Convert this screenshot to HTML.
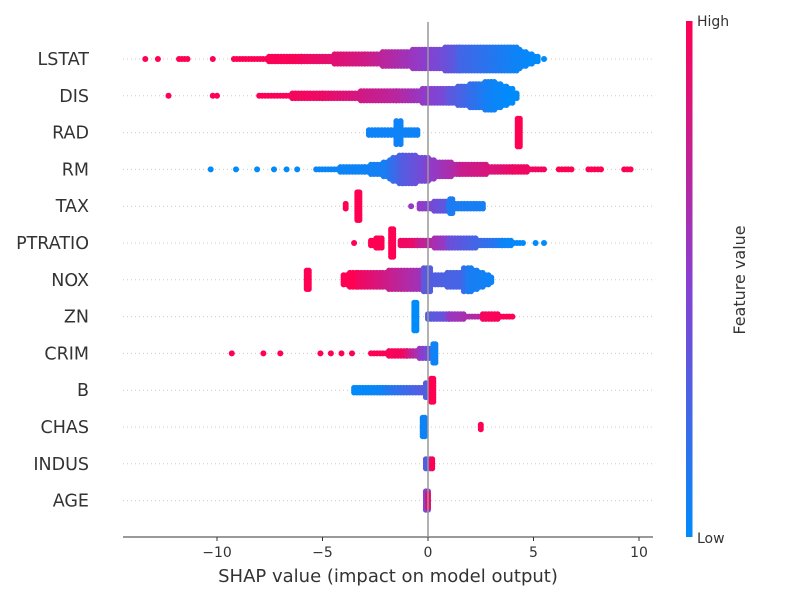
<!DOCTYPE html>
<html><head><meta charset="utf-8"><style>
body{margin:0;background:#fff;}
svg text{font-family:"DejaVu Sans","Liberation Sans",sans-serif;}
</style></head><body>
<svg id="c" width="800" height="600" xmlns="http://www.w3.org/2000/svg">
<defs><linearGradient id="cb" x1="0" y1="1" x2="0" y2="0">
<stop offset="0" stop-color="#008bfb"/><stop offset="0.5" stop-color="#8a3fd0"/><stop offset="1" stop-color="#ff0052"/></linearGradient></defs>
<g id="grid"></g><g id="dots"></g><g id="axis"></g>
<rect x="686" y="21" width="6.5" height="516" fill="url(#cb)"/>
<text x="697" y="26" font-size="14" fill="#333">High</text>
<text x="697" y="543" font-size="14" fill="#333">Low</text>
<text transform="translate(745,280) rotate(-90)" text-anchor="middle" font-size="16" fill="#333">Feature value</text>
<text x="388" y="582" text-anchor="middle" font-size="18" fill="#333">SHAP value (impact on model output)</text>
</svg>
<script>
const features = ["LSTAT","DIS","RAD","RM","TAX","PTRATIO","NOX","ZN","CRIM","B","CHAS","INDUS","AGE"];
// segments: [shapStart, shapEnd, halfHeightStart, halfHeightEnd (dots), colorStart(0=low,1=high), colorEnd]
const segLSTAT = [[-13.4,-13.4,0,0,1,1],[-12.8,-12.8,0,0,1,1],[-11.8,-11.4,0,0,1,1],[-10.2,-10.2,0,0,1,1],[-9.2,-6,0,1,1,0.97],[-6,-3,1,2,0.95,0.8],[-3,0,2,4,0.8,0.5],[0,1.5,4,5,0.5,0.3],[1.5,4.2,5,5,0.25,0.05],[4.2,5.2,4,1,0.05,0],[5.5,5.5,0,0,0,0]];
const segDIS = [[-12.3,-12.3,0,0,1,1],[-10.2,-10,0,0,1,1],[-8,-5,0,1,1,0.92],[-5,-1.5,1,2,0.92,0.7],[-1.5,1,2,3,0.7,0.4],[1,3,3,6,0.35,0.05],[3,4,6,3,0.05,0],[4,4.2,2,1,0,0]];
const segRAD = [[-2.8,-1.6,1,1,0.05,0.05],[-1.5,-1.3,5,5,0.05,0.05],[-1.2,-0.5,1,1,0.05,0.05],[4.25,4.35,6,6,1,1]];
const segRM = [[-10.3,-10.3,0,0,0,0],[-9.1,-9.1,0,0,0,0],[-8.1,-8.1,0,0,0,0],[-7.3,-7.3,0,0,0,0],[-6.7,-6.7,0,0,0,0],[-6.2,-6.2,0,0,0,0],[-5.3,-3,0,1,0.03,0.05],[-3,-1.8,1,3,0.05,0.1],[-1.8,-1.2,4,6,0.15,0.3],[-1.2,0,6,5,0.3,0.45],[0,1.5,4,2,0.5,0.7],[1.5,4,2,1,0.75,0.9],[4,5.5,1,0,0.92,0.95],[6.2,6.8,0,0,1,1],[7.6,8.2,0,0,1,1],[9.3,9.6,0,0,1,1]];
const segTAX = [[-3.9,-3.9,1,1,1,1],[-3.35,-3.25,6,6,1,1],[-0.8,-0.8,0,0,0.55,0.55],[-0.4,1,1,2,0.55,0.3],[1.05,1.15,3,3,0.1,0.1],[1,2.6,1,1,0.1,0.08]];
const segPTRATIO = [[-3.5,-3.5,0,0,1,1],[-2.7,-2.2,1,2,1,1],[-1.75,-1.65,6,6,1,1],[-1.3,-0.5,1,1,0.95,0.9],[-0.5,1,1,2,0.8,0.5],[1,3.5,2,1,0.4,0.1],[3.5,4.5,1,0,0.05,0],[5.1,5.1,0,0,0,0],[5.5,5.5,0,0,0,0]];
const segNOX = [[-5.75,-5.65,4,4,1,1],[-4,-3.4,2,3,1,1],[-3.3,-0.4,3,4,0.95,0.6],[-0.2,0.1,5,5,0.35,0.3],[0.2,1.5,2,3,0.3,0.25],[1.7,1.9,5,5,0.2,0.2],[1.9,3,5,1,0.1,0.05]];
const segZN = [[-0.65,-0.55,6,6,0,0],[0,1,1,1,0.3,0.4],[1,2.5,1,0,0.55,0.7],[2.6,4,1,0,0.95,1]];
const segCRIM = [[-9.3,-9.3,0,0,1,1],[-7.8,-7.8,0,0,1,1],[-7,-7,0,0,1,1],[-5.1,-5.1,0,0,1,1],[-4.6,-4.6,0,0,1,1],[-4.1,-4.1,0,0,1,1],[-3.6,-3.6,0,0,1,1],[-2.7,-1,0,1,1,0.95],[-1,0.2,1,2,0.85,0.3],[0.25,0.35,4,4,0.05,0.05]];
const segB = [[-3.5,-2,1,1,0,0.05],[-2,-0.3,1,1,0.1,0.3],[-0.1,0.1,3,3,0.3,0.4],[0.15,0.25,5,5,1,1]];
const segCHAS = [[-0.25,-0.15,4,4,0.05,0.05],[2.5,2.5,1,1,1,1]];
const segINDUS = [[-0.1,0.1,2,2,0.3,0.4],[0.2,0.25,2,2,1,1]];
const segAGE = [[-0.1,0,4,4,0.45,0.5],[0,0.05,3,3,0.9,1]];
const allSegs = [segLSTAT,segDIS,segRAD,segRM,segTAX,segPTRATIO,segNOX,segZN,segCRIM,segB,segCHAS,segINDUS,segAGE];
const xTicks = [-10,-5,0,5,10];
const tickLabels = ["\u221210","\u22125","0","5","10"];

const NS="http://www.w3.org/2000/svg";
const xS = v => 428 + v*21.1;
const yS = i => 59 + i*36.8;
function col(c){
  const a=[0,139,251], m=[138,63,208], b=[255,0,82];
  let p,q,t; if(c<0.5){p=a;q=m;t=c/0.5;}else{p=m;q=b;t=(c-0.5)/0.5;}
  return `rgb(${p.map((v,k)=>Math.round(v+(q[k]-v)*t)).join(',')})`;
}
function mk(tag,attrs,parent){const e=document.createElementNS(NS,tag);for(const k in attrs)e.setAttribute(k,attrs[k]);parent.appendChild(e);return e;}
const grid=document.getElementById('grid'), dots=document.getElementById('dots'), axis=document.getElementById('axis');
features.forEach((f,i)=>{
  const y=yS(i);
  const g=mk('line',{x1:123,x2:653,y1:y,y2:y,stroke:'#ccc','stroke-width':1,'stroke-dasharray':'1,3'},grid);
  
  
  const t=mk('text',{x:89,y:y+6,'text-anchor':'end','font-size':17.5,fill:'#333'},axis);
  t.textContent=f;
  
  
  const grp=mk('g',{},dots);
  
  
  allSegs[i].forEach(s=>{
    const [x0,x1,h0,h1,c0,c1]=s;
    const px0=xS(x0), px1=xS(x1);
    const n=Math.max(1,Math.round((px1-px0)/3)+1);
    for(let j=0;j<n;j++){
      const tt=n===1?0:j/(n-1);
      const px=px0+(px1-px0)*tt;
      const c=col(c0+(c1-c0)*tt);
      const h=Math.round(h0+(h1-h0)*tt);
      for(let k=-h;k<=h;k++){
        const d=mk('circle',{cx:px.toFixed(1),cy:(y+k*2.3).toFixed(1),r:3,fill:c},grp);
        
        
      }
    }
  });
});
const zl=mk('line',{x1:428,x2:428,y1:22,y2:536,stroke:'#999','stroke-width':1.5},axis);


const al=mk('line',{x1:123,x2:653,y1:537,y2:537,stroke:'#333','stroke-width':1},axis);


xTicks.forEach((v,i)=>{
  const tk=mk('line',{x1:xS(v),x2:xS(v),y1:537,y2:541,stroke:'#333'},axis);
  
  
  const tl=mk('text',{x:xS(v),y:557,'text-anchor':'middle','font-size':14,fill:'#333'},axis);
  tl.textContent=tickLabels[i];
  
  
});
</script>
</body></html>
